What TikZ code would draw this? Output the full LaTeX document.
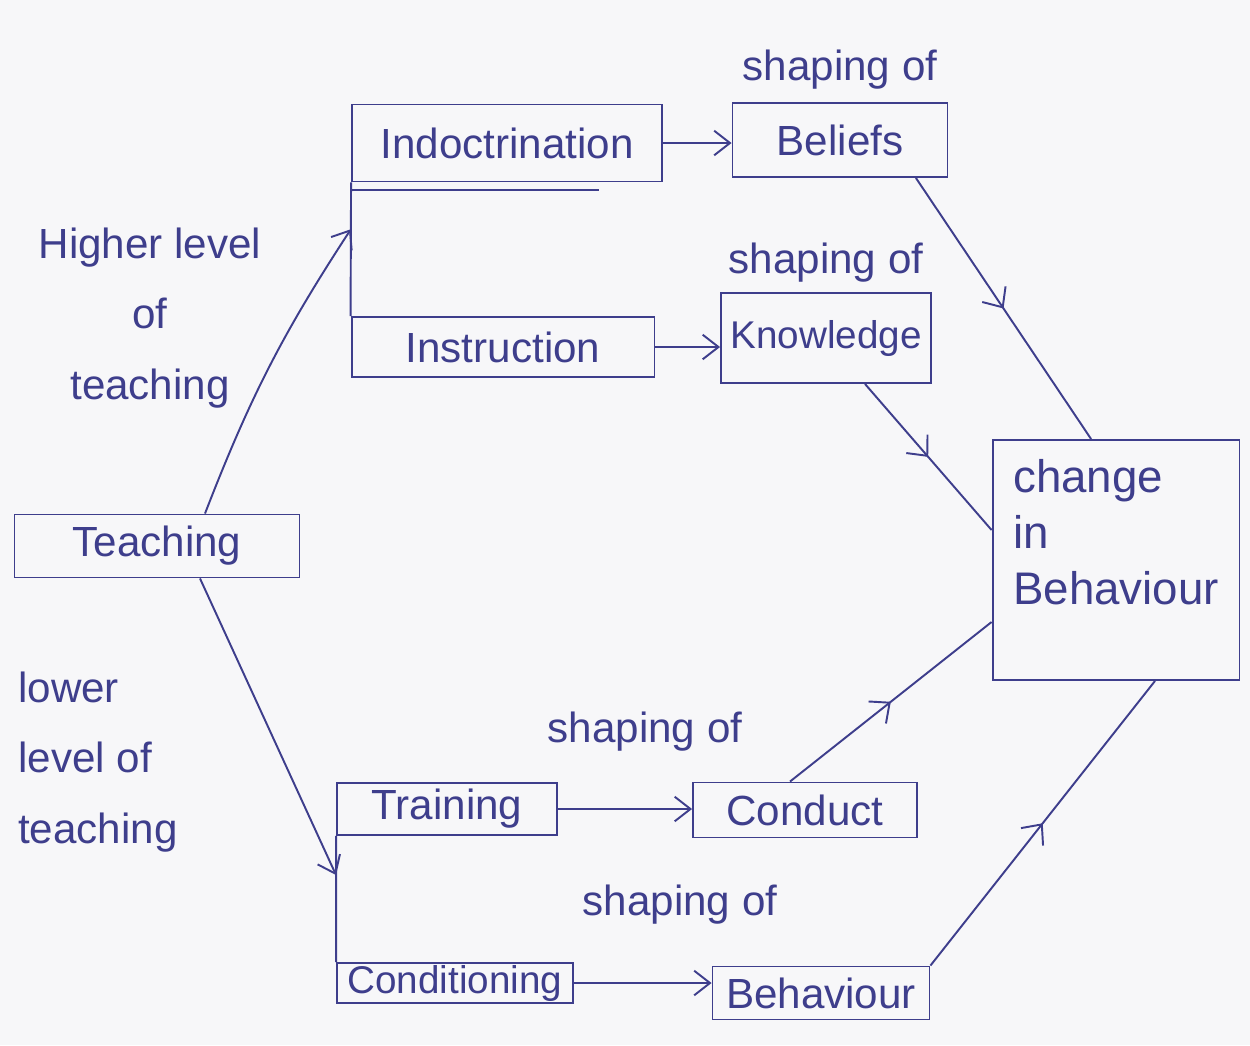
\documentclass[tikz,border=0pt]{standalone}
\usepackage{fontspec}
\setmainfont{Liberation Sans}
\usepackage{tikz}
\usetikzlibrary{arrows.meta, positioning, calc, decorations.markings}

\definecolor{ink}{RGB}{62,62,140}
\definecolor{paper}{RGB}{247,247,249}

\begin{document}
\begin{tikzpicture}[
    x=0.02cm, y=-0.02cm,
    box/.style={rectangle, draw=ink, line width=1.1pt, text=ink, inner sep=2pt, font=\fontsize{24}{28}\selectfont},
    lbl/.style={text=ink, align=center, font=\fontsize{24}{40}\selectfont},
    line/.style={draw=ink, line width=1.1pt, -{Straight Barb[length=9pt, width=14pt]}},
    midarrow/.style={draw=ink, line width=1.1pt, postaction={decorate},
        decoration={markings, mark=at position 0.5 with {\arrow{Straight Barb[length=9pt, width=16pt]}}}}
]
\fill[paper] (0,0) rectangle (1250,1045);
\useasboundingbox (0,0) rectangle (1250,1045);

% Nodes
\node [box, minimum width=5.7cm, minimum height=1.26cm] (teach) at (157,546) {Teaching};

\node [box, minimum width=6.2cm, minimum height=1.54cm] (indoc) at (507,143) {Indoctrination};
\node [box, minimum width=6.06cm, minimum height=1.2cm] (instr) at (503,347) {Instruction};

\node [box, minimum width=4.3cm, minimum height=1.48cm] (beliefs) at (840,140) {Beliefs};
\node [lbl, above=4pt of beliefs] (shbel) {shaping of};
\node [box, minimum width=4.2cm, minimum height=1.8cm, font=\fontsize{22}{26}\selectfont] (knowl) at (826,338) {Knowledge};
\node [lbl, above=2pt of knowl] (shkno) {shaping of};

\node [box, minimum width=4.94cm, minimum height=4.8cm, align=left, font=\fontsize{26}{32}\selectfont]
    (change) at (1116,560) {change\\in\\Behaviour\\\mbox{}};

\node [box, minimum width=4.4cm, minimum height=1.04cm] (train) at (447,809) {Training};
\node [box, minimum width=4.48cm, minimum height=1.1cm] (conduct) at (805,810) {Conduct};
\node [lbl] (shcon) at (645,732) {shaping of};

\node [box, minimum width=4.72cm, minimum height=0.8cm, inner ysep=0pt, font=\fontsize{22}{26}\selectfont] (condit) at (455,983) {Conditioning};
\node [box, minimum width=4.34cm, minimum height=1.06cm] (behav) at (821,993) {Behaviour};
\node [lbl] (shbeh) at (680,905) {shaping of};

\node [lbl] (higher) at (150,318) {Higher level\\of\\teaching};
\node [lbl, align=left, anchor=west] (lower) at (12,762) {lower\\level of\\teaching};

% Brackets
\draw [ink, line width=1.1pt] (indoc.south west) -- (instr.north west);
\draw [ink, line width=1.1pt] ($(indoc.south west)+(0,8)$) -- ++(248,0);
\draw [ink, line width=1.1pt] (train.south west) -- (condit.north west);
\coordinate (hin) at ($(indoc.south west)!0.35!(instr.north west)$);
\coordinate (lin) at ($(train.south west)!0.31!(condit.north west)$);

% Edges
\path [line] ($(teach.north)+(48,0)$) to[bend left=6] (hin);
\path [line] ($(teach.south)+(43,0)$) -- (lin);

\path [line] (indoc.east) -- (indoc.east -| beliefs.west);
\path [line] (instr.east) -- (instr.east -| knowl.west);
\path [line] (train.east) -- (train.east -| conduct.west);
\path [line] (condit.east) -- (condit.east -| behav.west);

\path [midarrow] ($(beliefs.south)!0.7!(beliefs.south east)$) -- ($(change.north west)!0.4!(change.north east)$);
\path [midarrow] ($(knowl.south)+(39,0)$) -- ($(change.west)+(0,-30)$);
\path [midarrow] ($(conduct.north)+(-15,0)$) -- ($(change.west)+(0,62)$);
\path [midarrow] (behav.north east) -- ($(change.south)+(39,0)$);
\end{tikzpicture}
\end{document}
